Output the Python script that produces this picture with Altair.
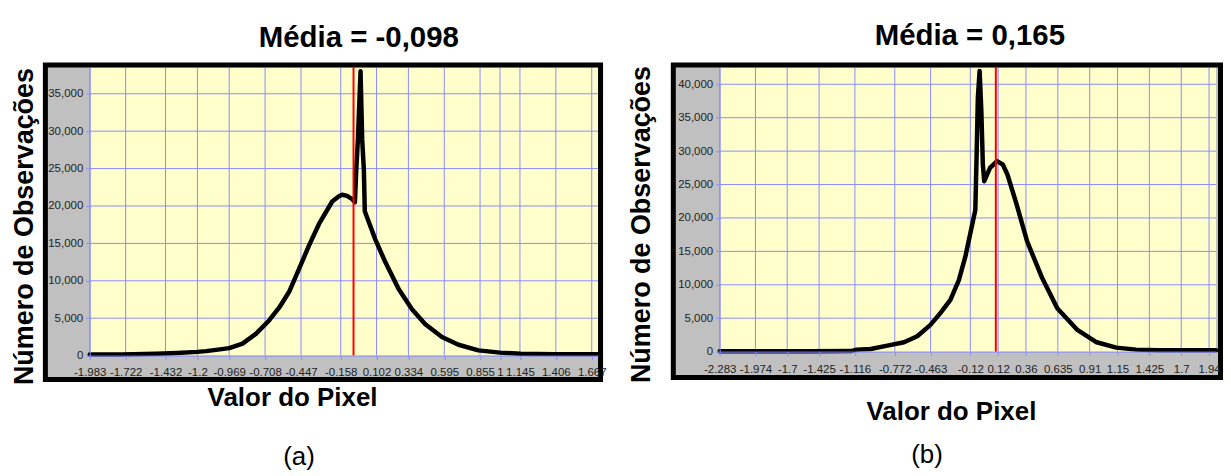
import altair as alt
import pandas as pd

FONT = "Liberation Sans"
GRID = "#8c8cff"
GRAY = "#c0c0c0"
YELLOW = "#ffffcc"

# ---------------- panel (a) ----------------
a_title = "Média = -0,098"
a_tag = "(a)"
a_x = [-1.983, -1.75, -1.5, -1.35, -1.2, -1.137, -1.05, -0.969, -0.872, -0.775,
       -0.679, -0.606, -0.534, -0.461, -0.389, -0.316, -0.22, -0.171, -0.148, -0.111,
       -0.075, -0.055, -0.045, -0.033, -0.014, -0.002, 0.01, 0.017, 0.094, 0.166,
       0.263, 0.36, 0.457, 0.578, 0.698, 0.843, 1.0, 1.15, 1.4, 1.713]
a_n = [150, 150, 250, 350, 500, 600, 800, 1000, 1600, 2900,
       4700, 6400, 8500, 11600, 14700, 17600, 20600, 21300, 21500, 21350,
       20900, 20500, 24900, 28900, 38000, 28900, 24900, 19300, 15500, 12500,
       8900, 6200, 4200, 2500, 1450, 700, 400, 250, 200, 200]
a_xticks = [-1.983, -1.722, -1.432, -1.2, -0.969, -0.708, -0.447, -0.158, 0.102,
            0.334, 0.595, 0.855, 1, 1.145, 1.406, 1.667]
a_yticks = [0, 5000, 10000, 15000, 20000, 25000, 30000, 35000]
a_xdomain = [-1.983, 1.713]
a_ymax = 38500
a_mean_line = -0.065

# ---------------- panel (b) ----------------
b_title = "Média = 0,165"
b_tag = "(b)"
b_x = [-2.283, -1.5, -1.15, -1.1, -0.98, -0.836, -0.692, -0.578, -0.464, -0.377,
       -0.292, -0.219, -0.163, -0.12, -0.077, -0.065, -0.055, -0.04, -0.025, -0.012,
       0.0, 0.05, 0.11, 0.16, 0.2, 0.28, 0.37, 0.5, 0.63, 0.8,
       0.97, 1.14, 1.31, 1.5, 2.0]
b_n = [60, 60, 80, 300, 400, 900, 1400, 2300, 4000, 5800,
       7750, 10700, 14200, 17700, 21200, 30000, 38000, 42000, 36000, 28000,
       25500, 27500, 28500, 28000, 26500, 22000, 16500, 11000, 6500, 3300,
       1400, 600, 300, 200, 200]
b_xticks = [-2.283, -1.974, -1.7, -1.425, -1.116, -0.772, -0.463, -0.12, 0.12,
            0.36, 0.635, 0.91, 1.15, 1.425, 1.7, 1.94]
b_yticks = [0, 5000, 10000, 15000, 20000, 25000, 30000, 35000, 40000]
b_xdomain = [-2.283, 2.0]
b_ymax = 42500
b_mean_line = 0.1

HYPHEN_EXPR = "replace(datum.label, '\u2212', '-')"


def panel(xs, ns, xticks, yticks, xdom, ymax, mean_x, title, tag, w, h, g):
    one = pd.DataFrame({"k": [0]})
    xsc = alt.Scale(domain=xdom, nice=False, zero=False)
    ysc = alt.Scale(domain=[0, ymax], nice=False)

    xaxis = alt.Axis(values=xticks, format=".4~g", labelExpr=HYPHEN_EXPR,
                     grid=False, domain=True,
                     domainColor=GRID, tickColor=GRID, tickSize=4,
                     labelFont=FONT, labelFontSize=11.5, labelColor="#222",
                     labelPadding=g["lpx"], labelOverlap=False, labelFlush=False,
                     title="Valor do Pixel", titleFont=FONT, titleFontSize=26,
                     titleFontWeight="bold", titleColor="black",
                     titleX=g["xtx"], titleY=g["xty"], titleAlign="center",
                     titleBaseline="alphabetic", zindex=2)
    yaxis = alt.Axis(values=yticks, format=",d", grid=False, domain=True,
                     domainColor=GRID, tickColor=GRID, tickSize=4,
                     labelFont=FONT, labelFontSize=11.5, labelColor="#222",
                     labelPadding=3, labelOverlap=False, labelFlush=False,
                     title="Número de Observações", titleFont=FONT, titleFontSize=27,
                     titleFontWeight="bold", titleColor="black", titleAngle=270,
                     titleX=g["ytx"], titleY=g["yty"], titleAlign="center",
                     titleBaseline="alphabetic", zindex=2)

    X = alt.X("v:Q", scale=xsc, axis=xaxis)
    Y = alt.Y("n:Q", scale=ysc, axis=yaxis)

    anchor = alt.Chart(one).mark_rect(fill="white", opacity=0).encode(
        x=alt.value(g["ax"]), x2=alt.value(g["ax2"]),
        y=alt.value(g["ay"]), y2=alt.value(g["ay2"]))
    gray = alt.Chart(one).mark_rect(fill=GRAY).encode(
        x=alt.value(g["fx"]), x2=alt.value(g["fx2"]),
        y=alt.value(g["fy"]), y2=alt.value(g["fy2"]))
    yellow = alt.Chart(one).mark_rect(fill=YELLOW).encode(
        x=alt.value(0), x2=alt.value(w), y=alt.value(0), y2=alt.value(h))
    vgrid = alt.Chart(pd.DataFrame({"v": xticks})).mark_rule(
        color=GRID, strokeWidth=1).encode(x=X, y=alt.value(0), y2=alt.value(h))
    hgrid = alt.Chart(pd.DataFrame({"n": yticks[1:]})).mark_rule(
        color=GRID, strokeWidth=1).encode(y=Y, x=alt.value(0), x2=alt.value(w))
    line = alt.Chart(pd.DataFrame({"v": xs, "n": ns})).mark_line(
        color="black", strokeWidth=4.5, strokeJoin="round", strokeCap="round").encode(
        x=X, y=Y, order=alt.Order("v:Q"))
    mean = alt.Chart(pd.DataFrame({"v": [mean_x]})).mark_rule(
        color="#ff0000", strokeWidth=2).encode(x=X, y=alt.value(0), y2=alt.value(h))
    border = alt.Chart(one).mark_rect(filled=False, color="black", strokeWidth=5).encode(
        x=alt.value(g["fx"]), x2=alt.value(g["fx2"]),
        y=alt.value(g["fy"]), y2=alt.value(g["fy2"]))
    ttl = alt.Chart(pd.DataFrame({"t": [title]})).mark_text(
        font=FONT, fontSize=29.5, fontWeight="bold", align="center",
        baseline="alphabetic", color="black").encode(
        text="t:N", x=alt.value(g["tx"]), y=alt.value(g["ty"]))
    lab = alt.Chart(pd.DataFrame({"t": [tag]})).mark_text(
        font=FONT, fontSize=26, align="center", baseline="alphabetic",
        color="black").encode(
        text="t:N", x=alt.value(g["gx"]), y=alt.value(g["gy"]))

    return alt.layer(anchor, gray, yellow, vgrid, hgrid, line, mean, border,
                     ttl, lab).properties(width=w, height=h)


ga = dict(ax=-82, ax2=530, ay=-57, ay2=405, fx=-44.5, fx2=512.5, fy=-2.5, fy2=313,
          tx=270, ty=-21, gx=210, gy=399, xtx=203, xty=50, ytx=-57, yty=159, lpx=7)
gb = dict(ax=-96, ax2=505, ay=-59, ay2=403, fx=-46.5, fx2=502.5, fy=-2.5, fy2=311,
          tx=251, ty=-23, gx=208, gy=397, xtx=232, xty=68, ytx=-70, yty=157, lpx=8)

left = panel(a_x, a_n, a_xticks, a_yticks, a_xdomain, a_ymax, a_mean_line,
             a_title, a_tag, 510, 289, ga)
right = panel(b_x, b_n, b_xticks, b_yticks, b_xdomain, b_ymax, b_mean_line,
              b_title, b_tag, 498, 285, gb)

chart = alt.hconcat(left, right, spacing=6).properties(padding=0).configure_view(
    strokeWidth=0)

chart.save("out.html", embed_options={"renderer": "svg", "actions": False})
